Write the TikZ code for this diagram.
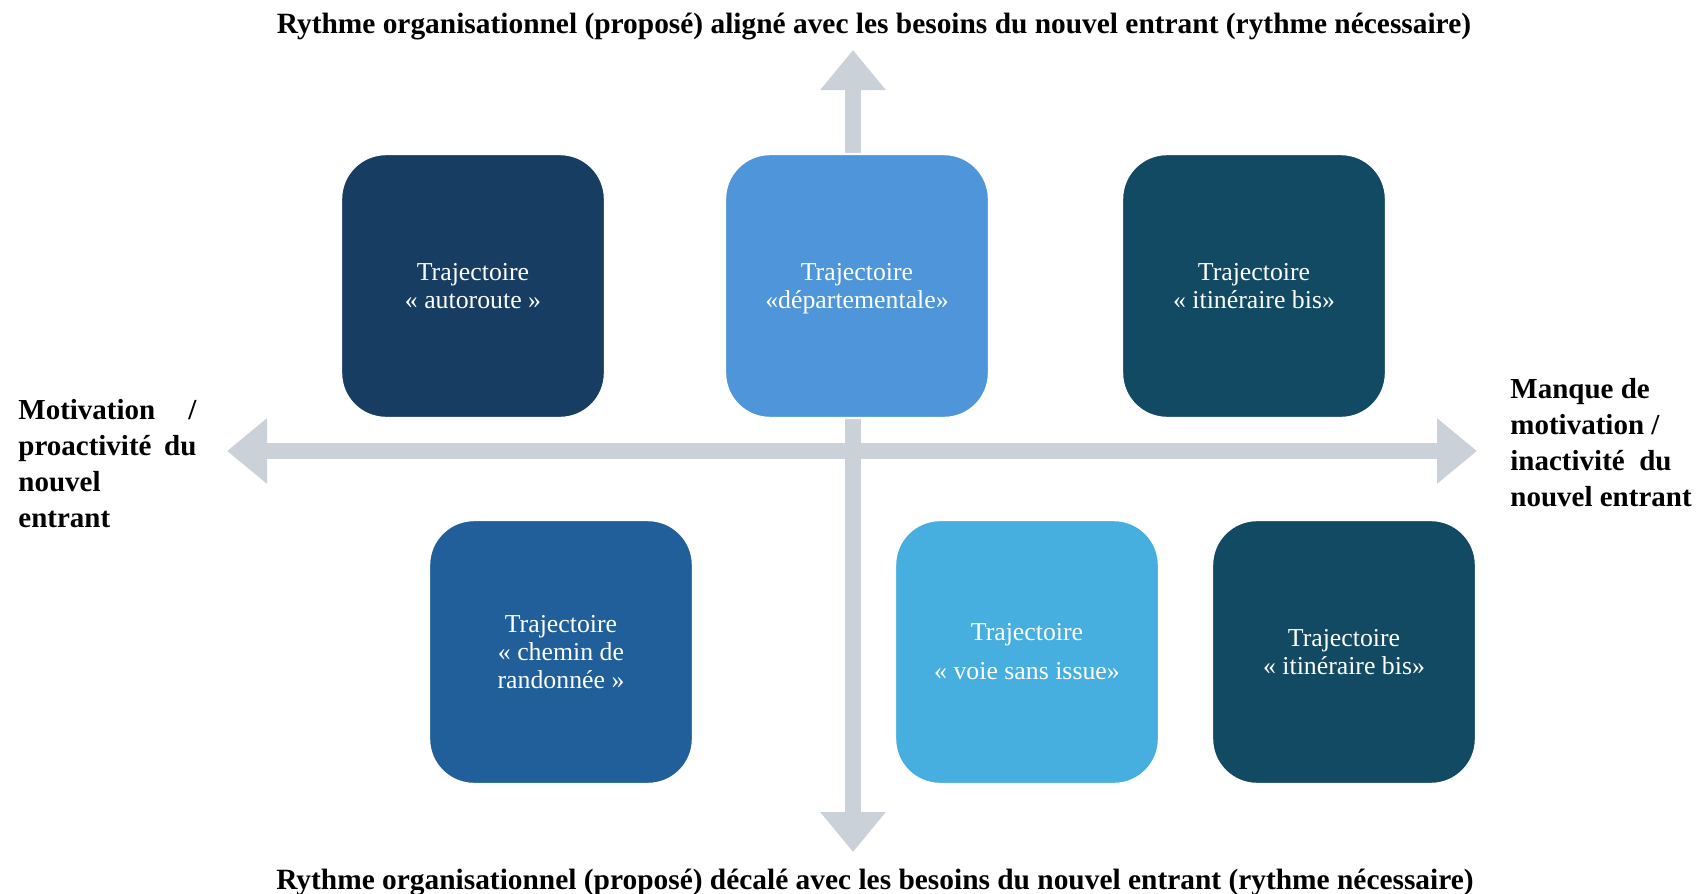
\documentclass[tikz,border=0pt]{standalone}
\usepackage{fontspec}
\setmainfont{Liberation Serif}
\usetikzlibrary{arrows.meta}
\definecolor{axisgray}{HTML}{CBD1D8}
\definecolor{cA}{HTML}{173D63}
\definecolor{cB}{HTML}{4F95D9}
\definecolor{cC}{HTML}{124A63}
\definecolor{cD}{HTML}{215F9A}
\definecolor{cE}{HTML}{46AFE0}
\tikzset{
  axis/.style={draw=axisgray, line width=8pt,
    {Triangle[width=31.5pt,length=20pt]}-{Triangle[width=31.5pt,length=20pt]}},
  box/.style={rounded corners=22.5pt, minimum width=132pt, minimum height=132pt,
    draw=white, line width=1.2pt, text=white, align=center,
    font=\fontsize{12.9}{14}\selectfont, inner sep=0pt},
  title/.style={font=\fontsize{14.7}{16}\selectfont\bfseries, inner sep=0pt},
  side/.style={font=\fontsize{14.5}{18}\selectfont\bfseries, inner sep=0pt, align=left}
}
\begin{document}
\begin{tikzpicture}[x=0.5pt,y=-0.5pt]
\useasboundingbox (0,0) rectangle (1697,894);
\coordinate (top) at (853,50);
\coordinate (bot) at (853,852);
\coordinate (lft) at (227,451);
\coordinate (rgt) at (1477,451);
\draw[axis] (bot) -- (top);
\draw[axis] (lft) -- (rgt);

\node[box, fill=cA] (b1) at (473,286) {Trajectoire\\« autoroute »};
\node[box, fill=cB] (b2) at (857,286) {\rule{0pt}{0pt}\\[-3pt]Trajectoire\\«départementale»};
\node[box, fill=cC] (b3) at (1254,286) {Trajectoire\\« itinéraire bis»};
\node[box, fill=cD] (b4) at (561,652) {Trajectoire\\« chemin de\\randonnée »};
\node[box, fill=cE, font=\fontsize{12.9}{19.5}\selectfont] (b5) at (1027,652) {Trajectoire\\« voie sans issue»};
\node[box, fill=cC] (b6) at (1344,652) {Trajectoire\\« itinéraire bis»};

\node[title] (t1) at (874,27) {Rythme organisationnel (proposé) aligné avec les besoins du nouvel entrant (rythme nécessaire)};
\node[title] (t2) at (875,883) {Rythme organisationnel (proposé) décalé avec les besoins du nouvel entrant (rythme nécessaire)};

\node[side, text width=89pt, anchor=west] (l) at (18,464) {Motivation\hfill/\\proactivité\hfill du\\nouvel\\entrant};
\node[side, anchor=west] (r) at (1510,443) {Manque de\\motivation /\\inactivité\ \ du\\nouvel entrant};
\end{tikzpicture}
\end{document}
